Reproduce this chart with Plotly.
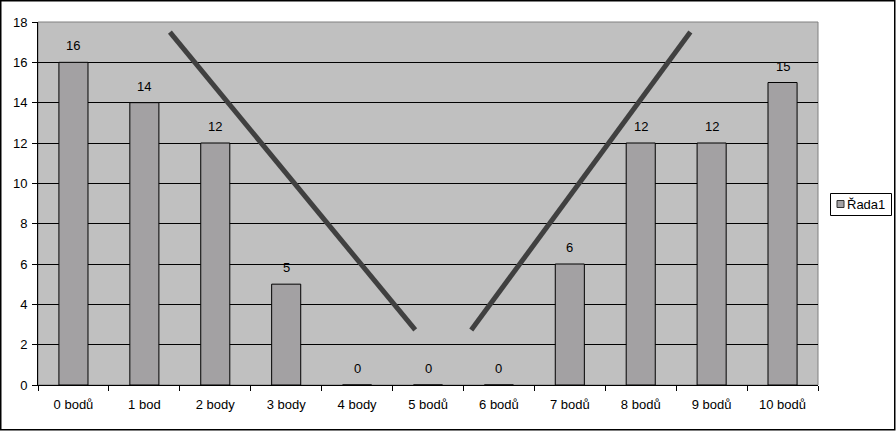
import plotly.graph_objects as go

categories = ["0 bodů", "1 bod", "2 body", "3 body", "4 body", "5 bodů",
              "6 bodů", "7 bodů", "8 bodů", "9 bodů", "10 bodů"]
values = [16, 14, 12, 5, 0, 0, 0, 6, 12, 12, 15]
series_name = "Řada1"

# two hand-drawn "V" strokes (category index, value)
stroke1_x = [1.36, 4.82]
stroke1_y = [17.5, 2.73]
stroke2_x = [5.61, 8.70]
stroke2_y = [2.73, 17.5]

W, H = 896, 431
ml, mr, mt, mb = 38, 78, 22, 46
pw, ph = W - ml - mr, H - mt - mb

FAM = "Liberation Sans, Arial, sans-serif"
font = dict(family=FAM, size=13, color="black")
BAR = "#A3A1A3"

def px_x(p):
    return (p - ml) / pw

def px_y(p):
    return 1 - (p - mt) / ph

fig = go.Figure()
fig.add_trace(go.Bar(
    x=categories, y=values, name=series_name,
    marker=dict(color=BAR, line=dict(color="black", width=1)),
    showlegend=False, hoverinfo="skip",
))

annotations = [
    dict(x=c, y=v, text=str(v), xref="x", yref="y", showarrow=False,
         yanchor="bottom", yshift=7, font=font)
    for c, v in zip(categories, values)
]
# legend text (manual legend)
annotations.append(dict(
    x=px_x(845), y=px_y(204.5), xref="paper", yref="paper",
    xanchor="left", yanchor="middle", showarrow=False,
    text=series_name, font=font, align="left",
))

shapes = []
for xs, ys in [(stroke1_x, stroke1_y), (stroke2_x, stroke2_y)]:
    shapes.append(dict(type="line", xref="x", yref="y",
                       x0=xs[0], y0=ys[0], x1=xs[1], y1=ys[1],
                       line=dict(color="#404040", width=5)))
# outer border of the chart
shapes.append(dict(type="rect", xref="paper", yref="paper",
                   x0=px_x(0.75), x1=px_x(W - 1.25),
                   y0=px_y(H - 1.25), y1=px_y(0.75),
                   line=dict(color="black", width=1.5), fillcolor="rgba(0,0,0,0)",
                   layer="above"))
# plot area border (grey)
shapes.append(dict(type="rect", xref="paper", yref="paper",
                   x0=0, x1=1, y0=0, y1=1,
                   line=dict(color="#808080", width=1), layer="below"))
# legend box
shapes.append(dict(type="rect", xref="paper", yref="paper",
                   x0=px_x(830.5), x1=px_x(891.5), y0=px_y(215.5), y1=px_y(193.5),
                   line=dict(color="black", width=1), fillcolor="white", layer="above"))
# legend key square
shapes.append(dict(type="rect", xref="paper", yref="paper",
                   x0=px_x(837), x1=px_x(844), y0=px_y(207.5), y1=px_y(200.5),
                   line=dict(color="#303030", width=1), fillcolor=BAR, layer="above"))

fig.update_layout(
    width=W, height=H,
    margin=dict(l=ml, r=mr, t=mt, b=mb, pad=0, autoexpand=False),
    paper_bgcolor="white", plot_bgcolor="#C0C0C0",
    font=font,
    bargap=0.59,
    shapes=shapes,
    annotations=annotations,
    showlegend=False,
    hovermode=False,
    xaxis=dict(type="category", showgrid=False, showline=True, linecolor="black",
               linewidth=1, ticks="outside", tickson="boundaries", ticklen=5,
               tickcolor="black", tickfont=font, zeroline=False, automargin=False,
               ticklabelstandoff=7),
    yaxis=dict(range=[0, 18], dtick=2, showgrid=True, gridcolor="black", gridwidth=1,
               showline=True, linecolor="black", linewidth=1, ticks="outside",
               ticklen=5, tickcolor="black", tickfont=font, zeroline=False,
               automargin=False, ticklabelstandoff=2),
)

fig.write_html("out.html", config={"displayModeBar": False},
               post_script="document.body.style.margin='0';document.body.style.overflow='hidden';")
